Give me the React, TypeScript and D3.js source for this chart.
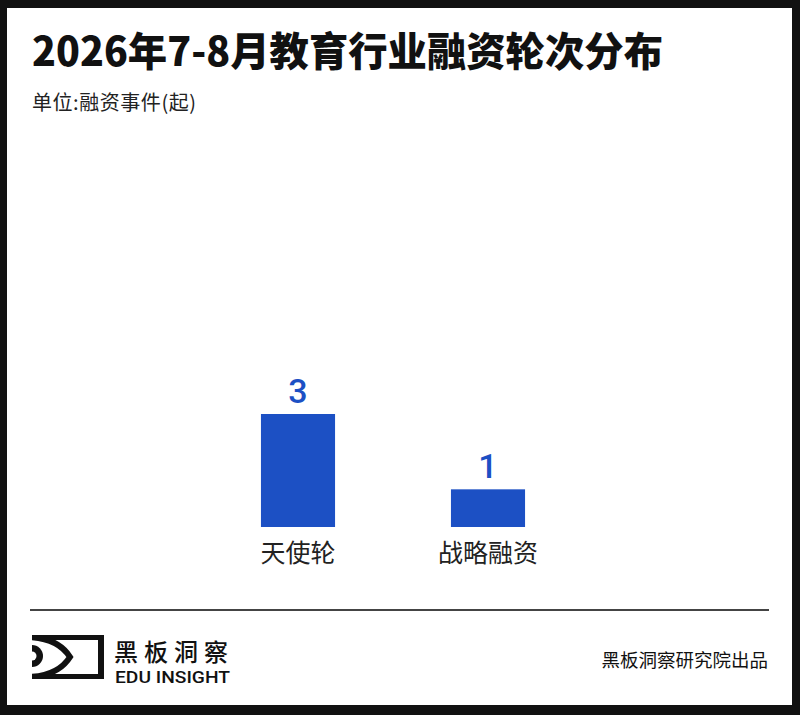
import React from "react";
import * as d3 from "d3";

const categories = ["天使轮", "战略融资"];
const values = [3, 1];
const titleText = "2026年7-8月教育行业融资轮次分布";
const unitText = "单位:融资事件(起)";
const brandCn = "黑板洞察";
const brandEn = "EDU INSIGHT";
const sourceText = "黑板洞察研究院出品";

const W = 800;
const H = 715;
const BAR = "#1c50c4";
const CJK = "'Noto Sans CJK SC', 'Noto Sans', sans-serif";

export default function App() {
  const x = d3
    .scaleBand<string>()
    .domain(categories)
    .range([203, 583])
    .paddingInner(0.61)
    .paddingOuter(0.305);
  const y = d3.scaleLinear().domain([0, 3]).range([527, 414]);

  return (
    <svg
      width={W}
      height={H}
      style={{ position: "absolute", left: 0, top: 0, display: "block" }}
    >
      <rect x={0} y={0} width={W} height={H} fill="#111" />
      <rect x={7} y={8} width={785} height={697} fill="#fff" />

      <text
        x={32}
        y={49}
        dominantBaseline="central"
        fontFamily={CJK}
        fontWeight={900}
        fontSize={40}
        textLength={631}
        lengthAdjust="spacingAndGlyphs"
        fill="#111"
      >
        {titleText}
      </text>
      <text
        x={32}
        y={101}
        dominantBaseline="central"
        fontFamily={CJK}
        fontSize={20}
        textLength={164}
        lengthAdjust="spacing"
        fill="#222"
      >
        {unitText}
      </text>

      {categories.map((c, i) => {
        const bx = x(c)!;
        const bw = x.bandwidth();
        return (
          <g key={c}>
            <rect
              x={bx}
              y={y(values[i])}
              width={bw}
              height={y(0) - y(values[i])}
              fill={BAR}
            />
            <text
              x={bx + bw / 2}
              y={y(values[i]) - 11}
              textAnchor="middle"
              fontFamily="Roboto, sans-serif"
              fontWeight={500}
              fontSize={34}
              fill={BAR}
            >
              {values[i]}
            </text>
            <text
              x={bx + bw / 2}
              y={551}
              textAnchor="middle"
              dominantBaseline="central"
              fontFamily={CJK}
              fontSize={25}
              fill="#222"
            >
              {c}
            </text>
          </g>
        );
      })}

      <line x1={30} x2={769} y1={610} y2={610} stroke="#444" strokeWidth={2} />

      <defs>
        <clipPath id="logoClip">
          <rect x={32} y={635} width={72} height={44} />
        </clipPath>
      </defs>
      <g clipPath="url(#logoClip)" fill="#111">
        <rect x={32} y={635} width={72} height={5} />
        <rect x={32} y={674} width={72} height={5} />
        <rect x={98} y={635} width={6} height={44} />
        <path
          d="M 28 637 Q 58 638 70 657 Q 58 676 28 677"
          fill="none"
          stroke="#111"
          strokeWidth={6}
        />
        <circle cx={32} cy={656} r={11} fill="#111" />
        <circle cx={32} cy={656} r={4.5} fill="#fff" />
      </g>
      <text
        x={114}
        y={650}
        dominantBaseline="central"
        fontFamily={CJK}
        fontWeight={500}
        fontSize={24}
        letterSpacing={6}
        fill="#111"
      >
        {brandCn}
      </text>
      <text
        x={115}
        y={683}
        fontFamily="Roboto, sans-serif"
        fontWeight={500}
        fontSize={17}
        textLength={115}
        lengthAdjust="spacingAndGlyphs"
        fill="#111"
      >
        {brandEn}
      </text>
      <text
        x={768}
        y={659}
        textAnchor="end"
        dominantBaseline="central"
        fontFamily={CJK}
        fontSize={18.5}
        fill="#111"
      >
        {sourceText}
      </text>
    </svg>
  );
}
